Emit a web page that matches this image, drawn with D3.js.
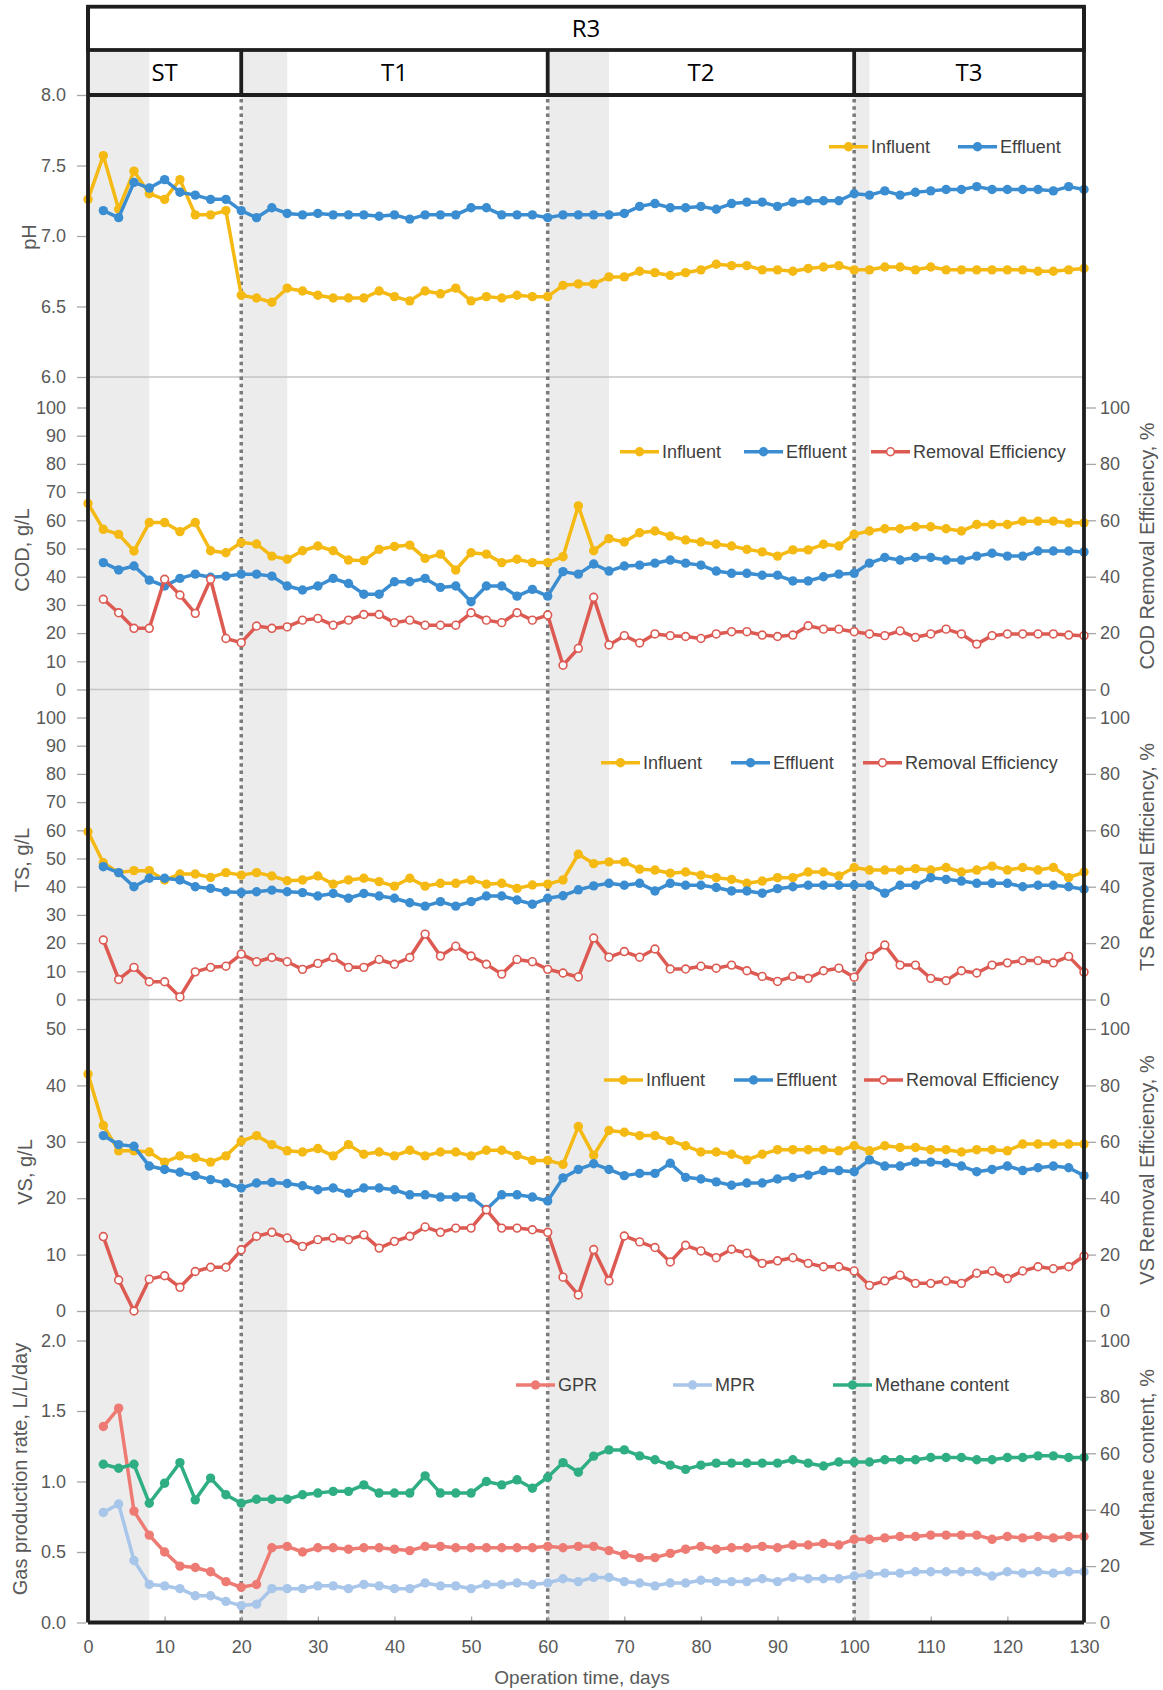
<!DOCTYPE html>
<html>
<head>
<meta charset="utf-8">
<script src="https://d3js.org/d3.v7.min.js"></script>
<style>
  body { margin: 0; background: #fff; }
  svg text { font-family: "Liberation Sans", Arial, sans-serif; }
</style>
</head>
<body>
<svg id="chart" width="1163" height="1690"></svg>
<script>
// ---- data (operation day, every 2 days) ----
var days = [0, 2, 4, 6, 8, 10, 12, 14, 16, 18, 20, 22, 24, 26, 28, 30, 32, 34, 36, 38,
            40, 42, 44, 46, 48, 50, 52, 54, 56, 58, 60, 62, 64, 66, 68, 70, 72, 74, 76, 78,
            80, 82, 84, 86, 88, 90, 92, 94, 96, 98, 100, 102, 104, 106, 108, 110, 112, 114, 116, 118,
            120, 122, 124, 126, 128, 130];

var phInfluent = [7.26, 7.57, 7.19, 7.46, 7.30, 7.26, 7.40, 7.15, 7.15, 7.18,
                  6.58, 6.56, 6.53, 6.63, 6.61, 6.58, 6.56, 6.56, 6.56, 6.61,
                  6.57, 6.54, 6.61, 6.59, 6.63, 6.54, 6.57, 6.56, 6.58, 6.57,
                  6.57, 6.65, 6.66, 6.66, 6.71, 6.71, 6.75, 6.74, 6.72, 6.74,
                  6.76, 6.80, 6.79, 6.79, 6.76, 6.76, 6.75, 6.77, 6.78, 6.79,
                  6.76, 6.76, 6.78, 6.78, 6.76, 6.78, 6.76, 6.76, 6.76, 6.76,
                  6.76, 6.76, 6.75, 6.75, 6.76, 6.77];
var phEffluent = [null, 7.18, 7.13, 7.38, 7.34, 7.40, 7.31, 7.29, 7.26, 7.26,
                  7.18, 7.13, 7.20, 7.16, 7.15, 7.16, 7.15, 7.15, 7.15, 7.14,
                  7.15, 7.12, 7.15, 7.15, 7.15, 7.20, 7.20, 7.15, 7.15, 7.15,
                  7.13, 7.15, 7.15, 7.15, 7.15, 7.16, 7.21, 7.23, 7.20, 7.20,
                  7.21, 7.19, 7.23, 7.24, 7.24, 7.21, 7.24, 7.25, 7.25, 7.25,
                  7.30, 7.29, 7.32, 7.29, 7.31, 7.32, 7.33, 7.33, 7.35, 7.33,
                  7.33, 7.33, 7.33, 7.32, 7.35, 7.33];

var codInfluent = [66.0, 56.8, 55.0, 49.1, 59.2, 59.2, 56.0, 59.2, 49.2, 48.5,
                   52.1, 51.6, 47.3, 46.2, 49.2, 50.9, 49.2, 45.9, 45.7, 49.7,
                   50.7, 51.2, 46.5, 48.0, 42.4, 48.5, 48.0, 45.0, 46.2, 45.0,
                   45.0, 47.1, 65.1, 49.2, 53.5, 52.3, 55.6, 56.2, 54.4, 53.0,
                   52.3, 51.5, 50.9, 49.7, 48.8, 47.3, 49.5, 49.5, 51.5, 50.9,
                   55.0, 56.2, 57.0, 57.0, 57.7, 57.7, 57.0, 56.2, 58.5, 58.5,
                   58.5, 59.7, 59.7, 59.7, 59.1, 59.1];
var codEffluent = [null, 45.0, 42.4, 43.8, 38.8, 36.7, 39.4, 40.9, 39.8, 40.2,
                   40.9, 40.9, 40.2, 36.7, 35.3, 36.7, 39.4, 37.6, 33.8, 33.8,
                   38.2, 38.2, 39.4, 36.2, 36.7, 31.1, 36.7, 36.7, 33.1, 35.5,
                   33.1, 41.8, 40.9, 44.5, 42.0, 43.8, 44.1, 44.8, 45.9, 44.8,
                   44.1, 42.0, 41.2, 41.2, 40.5, 40.5, 38.5, 38.5, 40.0, 40.9,
                   41.2, 44.8, 46.8, 45.9, 46.8, 46.8, 45.9, 45.9, 47.3, 48.3,
                   47.3, 47.3, 49.1, 49.1, 49.1, 48.8];
var codRemoval = [null, 32.0, 27.2, 21.7, 21.7, 39.1, 33.5, 27.0, 39.1, 18.1,
                  16.6, 22.5, 21.7, 22.2, 24.6, 25.2, 22.8, 24.6, 26.6, 26.6,
                  23.7, 24.6, 22.8, 22.8, 22.8, 27.2, 24.6, 23.7, 27.2, 24.6,
                  26.4, 8.6, 14.6, 32.7, 15.8, 19.1, 16.5, 19.7, 19.1, 18.8,
                  18.1, 19.7, 20.5, 20.5, 19.3, 18.8, 19.3, 22.6, 21.4, 21.4,
                  20.5, 19.7, 19.1, 20.8, 18.5, 19.7, 21.4, 19.7, 16.1, 19.1,
                  19.7, 19.7, 19.7, 19.7, 19.3, 19.1];

var tsInfluent = [59.5, 48.5, 45.0, 45.7, 45.7, 42.4, 44.5, 44.5, 43.3, 45.0,
                  44.1, 45.0, 43.8, 42.1, 42.4, 43.8, 40.9, 42.4, 43.0, 41.8,
                  40.2, 43.0, 40.2, 41.2, 41.2, 42.4, 40.9, 41.2, 39.4, 40.6,
                  40.9, 42.4, 51.5, 48.2, 48.8, 48.8, 46.2, 45.9, 44.8, 45.2,
                  44.1, 43.2, 42.6, 41.2, 42.0, 43.2, 43.2, 45.2, 45.2, 43.8,
                  46.8, 45.9, 45.9, 45.9, 46.4, 45.9, 46.8, 45.2, 45.9, 47.3,
                  45.9, 46.8, 45.9, 46.8, 43.2, 45.2];
var tsEffluent = [null, 47.1, 45.0, 40.0, 43.0, 43.0, 42.4, 40.0, 39.4, 38.2,
                  37.9, 38.2, 38.8, 38.2, 37.9, 36.7, 37.6, 35.9, 37.6, 36.7,
                  35.9, 34.3, 33.1, 34.7, 33.1, 34.7, 36.7, 36.7, 35.3, 33.8,
                  35.9, 36.8, 38.9, 40.3, 41.2, 40.5, 41.2, 38.5, 41.2, 40.5,
                  40.5, 39.7, 38.5, 38.5, 37.7, 39.3, 40.0, 40.5, 40.5, 40.5,
                  40.5, 40.5, 37.7, 40.5, 40.5, 43.2, 42.6, 42.0, 41.2, 41.2,
                  41.2, 40.0, 40.5, 40.5, 40.0, 39.1];
var tsRemoval = [null, 21.1, 7.1, 11.4, 6.3, 6.3, 0.9, 9.8, 11.4, 11.8,
                 16.1, 13.4, 14.9, 13.4, 10.7, 12.8, 14.9, 11.4, 11.4, 14.2,
                 12.5, 14.9, 23.2, 15.4, 18.9, 15.4, 12.5, 9.0, 14.2, 13.4,
                 10.7, 9.4, 8.0, 21.8, 15.0, 17.0, 15.0, 17.9, 10.8, 10.8,
                 11.8, 11.1, 12.2, 10.2, 8.2, 6.4, 8.2, 7.5, 10.2, 11.1,
                 7.9, 15.3, 19.3, 12.2, 12.2, 7.5, 6.7, 10.2, 9.4, 12.2,
                 13.0, 13.8, 13.8, 13.0, 15.3, 9.7];

var vsInfluent = [42.0, 32.9, 28.4, 28.4, 28.2, 26.4, 27.5, 27.2, 26.4, 27.5,
                  30.1, 31.1, 29.5, 28.4, 28.2, 28.8, 27.5, 29.5, 27.8, 28.2,
                  27.5, 28.5, 27.5, 28.2, 28.2, 27.5, 28.5, 28.5, 27.6, 26.7,
                  26.7, 26.0, 32.7, 27.6, 32.0, 31.7, 31.1, 31.1, 30.2, 29.3,
                  28.2, 28.2, 27.8, 26.8, 27.8, 28.6, 28.6, 28.6, 28.6, 28.4,
                  29.3, 28.4, 29.3, 29.0, 29.0, 28.6, 28.6, 28.2, 28.6, 28.6,
                  28.4, 29.6, 29.6, 29.6, 29.6, 29.6];
var vsEffluent = [null, 31.1, 29.5, 29.2, 25.7, 25.1, 24.6, 24.0, 23.3, 22.7,
                  21.8, 22.7, 22.8, 22.6, 22.2, 21.5, 21.8, 20.9, 21.8, 21.8,
                  21.5, 20.6, 20.6, 20.2, 20.2, 20.2, 18.0, 20.6, 20.6, 20.2,
                  19.5, 23.6, 25.1, 26.1, 25.1, 24.0, 24.4, 24.4, 26.2, 23.7,
                  23.4, 22.9, 22.3, 22.7, 22.7, 23.4, 23.7, 24.1, 24.9, 24.9,
                  24.7, 26.8, 25.7, 25.7, 26.4, 26.4, 26.2, 25.7, 24.7, 25.1,
                  25.7, 24.9, 25.4, 25.7, 25.4, 24.0];
var vsRemoval = [null, 26.4, 11.0, 0.0, 11.3, 12.5, 8.4, 14.0, 15.5, 15.5,
                 21.7, 26.5, 27.9, 25.9, 22.9, 25.3, 25.9, 25.3, 27.0, 22.3,
                 24.7, 26.5, 29.8, 27.9, 29.4, 29.4, 35.9, 29.4, 29.4, 28.8,
                 27.9, 12.0, 5.7, 21.8, 10.7, 26.6, 24.5, 22.5, 17.4, 23.3,
                 21.3, 18.9, 21.9, 20.5, 16.9, 17.8, 18.9, 16.9, 15.7, 15.7,
                 14.2, 9.1, 10.7, 12.7, 9.8, 9.8, 10.7, 9.8, 13.4, 14.2,
                 11.5, 14.2, 15.7, 15.0, 15.7, 19.5];

var gpr = [null, 1.39, 1.52, 0.79, 0.62, 0.50, 0.40, 0.39, 0.36, 0.29,
           0.25, 0.27, 0.53, 0.54, 0.50, 0.53, 0.53, 0.52, 0.53, 0.53,
           0.52, 0.51, 0.54, 0.54, 0.53, 0.53, 0.53, 0.53, 0.53, 0.53,
           0.54, 0.53, 0.54, 0.54, 0.51, 0.48, 0.46, 0.46, 0.49, 0.52,
           0.54, 0.52, 0.53, 0.53, 0.54, 0.53, 0.55, 0.55, 0.56, 0.55,
           0.59, 0.59, 0.60, 0.61, 0.61, 0.62, 0.62, 0.62, 0.62, 0.59,
           0.61, 0.60, 0.61, 0.60, 0.61, 0.61];
var mpr = [null, 0.78, 0.84, 0.44, 0.27, 0.26, 0.24, 0.19, 0.19, 0.15,
           0.12, 0.13, 0.24, 0.24, 0.24, 0.26, 0.26, 0.24, 0.27, 0.26,
           0.24, 0.24, 0.28, 0.26, 0.26, 0.24, 0.27, 0.27, 0.28, 0.27,
           0.28, 0.31, 0.29, 0.32, 0.32, 0.29, 0.28, 0.26, 0.28, 0.28,
           0.30, 0.29, 0.29, 0.29, 0.31, 0.29, 0.32, 0.31, 0.31, 0.31,
           0.33, 0.34, 0.35, 0.35, 0.36, 0.36, 0.36, 0.36, 0.36, 0.33,
           0.36, 0.35, 0.36, 0.35, 0.36, 0.36];
var methane = [null, 56.1, 54.7, 56.1, 42.3, 49.4, 56.7, 43.5, 51.2, 45.3,
               42.3, 43.7, 43.7, 43.7, 45.3, 45.9, 46.5, 46.5, 48.8, 45.9,
               45.9, 45.9, 52.0, 45.9, 45.9, 45.9, 50.0, 48.8, 50.6, 47.6,
               51.5, 56.7, 53.3, 59.0, 61.2, 61.2, 59.1, 57.7, 55.8, 54.3,
               55.8, 56.5, 56.5, 56.5, 56.5, 56.5, 57.7, 56.5, 55.5, 56.9,
               56.9, 56.9, 57.7, 57.7, 57.7, 58.5, 58.5, 58.5, 57.7, 57.7,
               58.5, 58.5, 59.1, 59.1, 58.5, 58.5];

// phases: header cells, transition (shaded) bands, dotted boundaries
var phaseLabels = ["ST", "T1", "T2", "T3"];
var phaseStart = [0, 20, 60, 100];
var phaseEnd = [20, 60, 100, 130];
var shadeStart = [0, 20, 60, 100];
var shadeEnd = [8, 26, 68, 102];
var boundaries = [20, 60, 100];

var xTicks = [0, 10, 20, 30, 40, 50, 60, 70, 80, 90, 100, 110, 120, 130];
var phTicks = [6.0, 6.5, 7.0, 7.5, 8.0];
var gL100Ticks = [0, 10, 20, 30, 40, 50, 60, 70, 80, 90, 100];
var vsTicks = [0, 10, 20, 30, 40, 50];
var gasTicks = [0.0, 0.5, 1.0, 1.5, 2.0];
var pctTicks = [0, 20, 40, 60, 80, 100];

// colours
var cInf = "#f5b914", cEff = "#3a8dd0", cRem = "#dc5a52";
var cGpr = "#ee7b73", cMpr = "#a8c5ea", cMeth = "#2fae83";
var txtGrey = "#595959", frameCol = "#1e1e1e";

// ---- layout ----
var svg = d3.select("#chart");
var left = 88, right = 1084;
var headTop = 6.7, headMid = 50, plotTop = 95, plotBottom = 1622.5;

var x = d3.scaleLinear().domain([0, 130]).range([left, right]);

//each panel: bottom line and a 282px span for the labelled range
var yPh = d3.scaleLinear().domain([6, 8]).range([377, 95]);
var yCod = d3.scaleLinear().domain([0, 100]).range([689.5, 407.5]);
var yTs = d3.scaleLinear().domain([0, 100]).range([999.5, 717.5]);
var yVs = d3.scaleLinear().domain([0, 50]).range([1311, 1029]);
var yVsR = d3.scaleLinear().domain([0, 100]).range([1311, 1029]);
var yGas = d3.scaleLinear().domain([0, 2]).range([1622.5, 1340.5]);
var yGasR = d3.scaleLinear().domain([0, 100]).range([1622.5, 1340.5]);

// shaded transition bands
var bands = svg.append("g");
shadeStart.forEach(function (s, i) {
    bands.append("rect")
        .attr("x", x(s)).attr("y", headMid)
        .attr("width", x(shadeEnd[i]) - x(s))
        .attr("height", plotBottom - headMid)
        .attr("fill", "#ececec");
});

// grid lines at the bottom of each panel
[yPh(6), yCod(0), yTs(0), yVs(0)].forEach(function (gy) {
    svg.append("line")
        .attr("x1", left).attr("x2", right)
        .attr("y1", gy).attr("y2", gy)
        .attr("stroke", "#c4c4c4").attr("stroke-width", 1.5);
});

// dotted phase boundaries
boundaries.forEach(function (b) {
    svg.append("line")
        .attr("x1", x(b)).attr("x2", x(b))
        .attr("y1", plotTop + 4).attr("y2", plotBottom)
        .attr("stroke", "#7a7a7a").attr("stroke-width", 3.5)
        .attr("stroke-dasharray", "3.5,3.8");
});

// axes
function styleAxis(g) {
    g.select(".domain").remove();
    g.selectAll(".tick line").attr("stroke", "#a6a6a6").attr("stroke-width", 1.3);
    g.selectAll(".tick text").attr("fill", txtGrey).style("font-size", "18px")
        .style("font-family", "'Liberation Sans', Arial, sans-serif");
}
function leftAxis(scale, ticks, fmt) {
    svg.append("g").attr("transform", "translate(" + (left - 2) + ",0)")
        .call(d3.axisLeft(scale).tickValues(ticks).tickFormat(d3.format(fmt)).tickSize(9).tickPadding(11))
        .call(styleAxis);
}
function rightAxis(scale, ticks) {
    svg.append("g").attr("transform", "translate(" + (right + 2) + ",0)")
        .call(d3.axisRight(scale).tickValues(ticks).tickFormat(d3.format("d")).tickSize(10).tickPadding(4))
        .call(styleAxis);
}
leftAxis(yPh, phTicks, ".1f");
leftAxis(yCod, gL100Ticks, "d");
leftAxis(yTs, gL100Ticks, "d");
leftAxis(yVs, vsTicks, "d");
leftAxis(yGas, gasTicks, ".1f");
rightAxis(yCod, pctTicks);
rightAxis(yTs, pctTicks);
rightAxis(yVsR, pctTicks);
rightAxis(yGasR, pctTicks);

svg.append("g").attr("transform", "translate(0," + plotBottom + ")")
    .call(d3.axisBottom(x).tickValues(xTicks).tickSize(-6).tickPadding(18))
    .call(styleAxis);

// series
function drawSeries(yScale, values, color, hollow) {
    var pts = days.map(function (d, i) { return {day: d, v: values[i]}; })
        .filter(function (p) { return p.v != null; });
    var line = d3.line()
        .x(function (p) { return x(p.day); })
        .y(function (p) { return yScale(p.v); });
    svg.append("path").datum(pts)
        .attr("d", line).attr("fill", "none")
        .attr("stroke", color).attr("stroke-width", 3.5)
        .attr("stroke-linejoin", "round");
    svg.append("g").selectAll("circle").data(pts).join("circle")
        .attr("cx", function (p) { return x(p.day); })
        .attr("cy", function (p) { return yScale(p.v); })
        .attr("r", hollow ? 3.9 : 4.7)
        .attr("fill", hollow ? "#fff" : color)
        .attr("stroke", hollow ? color : "none")
        .attr("stroke-width", 1.6);
}
drawSeries(yPh, phInfluent, cInf);
drawSeries(yPh, phEffluent, cEff);
drawSeries(yCod, codInfluent, cInf);
drawSeries(yCod, codEffluent, cEff);
drawSeries(yCod, codRemoval, cRem, true);
drawSeries(yTs, tsInfluent, cInf);
drawSeries(yTs, tsEffluent, cEff);
drawSeries(yTs, tsRemoval, cRem, true);
drawSeries(yVs, vsInfluent, cInf);
drawSeries(yVs, vsEffluent, cEff);
drawSeries(yVsR, vsRemoval, cRem, true);
drawSeries(yGas, gpr, cGpr);
drawSeries(yGas, mpr, cMpr);
drawSeries(yGasR, methane, cMeth);

// legends
function legend(y, items) {
    items.forEach(function (it) {
        var g = svg.append("g").attr("transform", "translate(" + it.x + "," + y + ")");
        g.append("line").attr("x1", 0).attr("x2", 39)
            .attr("stroke", it.color).attr("stroke-width", 3.5);
        g.append("circle").attr("cx", 19.5).attr("r", it.hollow ? 3.9 : 4.7)
            .attr("fill", it.hollow ? "#fff" : it.color)
            .attr("stroke", it.hollow ? it.color : "none").attr("stroke-width", 1.6);
        g.append("text").attr("x", 42).attr("dy", "0.35em")
            .attr("fill", "#404040").style("font-size", "18px").text(it.label);
    });
}
legend(146.7, [{x: 829, label: "Influent", color: cInf}, {x: 958, label: "Effluent", color: cEff}]);
legend(451.7, [{x: 620, label: "Influent", color: cInf}, {x: 744, label: "Effluent", color: cEff},
               {x: 871, label: "Removal Efficiency", color: cRem, hollow: true}]);
legend(762.7, [{x: 601, label: "Influent", color: cInf}, {x: 731, label: "Effluent", color: cEff},
               {x: 863, label: "Removal Efficiency", color: cRem, hollow: true}]);
legend(1080, [{x: 604, label: "Influent", color: cInf}, {x: 734, label: "Effluent", color: cEff},
              {x: 864, label: "Removal Efficiency", color: cRem, hollow: true}]);
legend(1385, [{x: 516, label: "GPR", color: cGpr}, {x: 673, label: "MPR", color: cMpr},
              {x: 833, label: "Methane content", color: cMeth}]);

// axis titles
function vTitle(tx, ty, label) {
    svg.append("text")
        .attr("transform", "translate(" + tx + "," + ty + ") rotate(-90)")
        .attr("text-anchor", "middle").attr("dominant-baseline", "central")
        .attr("fill", txtGrey).style("font-size", "20px").text(label);
}
vTitle(29, 237, "pH");
vTitle(22, 550, "COD, g/L");
vTitle(22, 860, "TS, g/L");
vTitle(25, 1172, "VS, g/L");
vTitle(20, 1469, "Gas production rate, L/L/day");
vTitle(1147, 546, "COD Removal Efficiency, %");
vTitle(1147, 857, "TS Removal Efficiency, %");
vTitle(1147, 1170, "VS Removal Efficiency, %");
vTitle(1147, 1458, "Methane content, %");

svg.append("text").attr("x", 582).attr("y", 1677).attr("dy", "0.35em")
    .attr("text-anchor", "middle").attr("fill", txtGrey)
    .style("font-size", "19px").text("Operation time, days");

// header boxes and frame
var frame = svg.append("g").attr("stroke", frameCol).attr("stroke-width", 3.8).attr("fill", "none");
frame.append("rect").attr("x", left).attr("y", headTop)
    .attr("width", right - left).attr("height", headMid - headTop).attr("fill", "#fff");
frame.append("line").attr("x1", left).attr("x2", right).attr("y1", plotTop).attr("y2", plotTop);
frame.append("line").attr("x1", left).attr("x2", left).attr("y1", headTop).attr("y2", plotBottom);
frame.append("line").attr("x1", right).attr("x2", right).attr("y1", headTop).attr("y2", plotBottom);
frame.append("line").attr("x1", left).attr("x2", right).attr("y1", plotBottom).attr("y2", plotBottom);
boundaries.forEach(function (b) {
    frame.append("line").attr("x1", x(b)).attr("x2", x(b)).attr("y1", headMid).attr("y2", plotTop);
});

svg.append("text").attr("x", (left + right) / 2).attr("y", (headTop + headMid) / 2)
    .attr("dy", "0.36em").attr("text-anchor", "middle")
    .style("font-family", "'Open Sans', sans-serif").style("font-size", "24px").text("R3");
phaseLabels.forEach(function (lab, i) {
    svg.append("text").attr("x", (x(phaseStart[i]) + x(phaseEnd[i])) / 2)
        .attr("y", (headMid + plotTop) / 2).attr("dy", "0.36em").attr("text-anchor", "middle")
        .style("font-family", "'Open Sans', sans-serif").style("font-size", "24px").text(lab);
});
</script>
</body>
</html>
